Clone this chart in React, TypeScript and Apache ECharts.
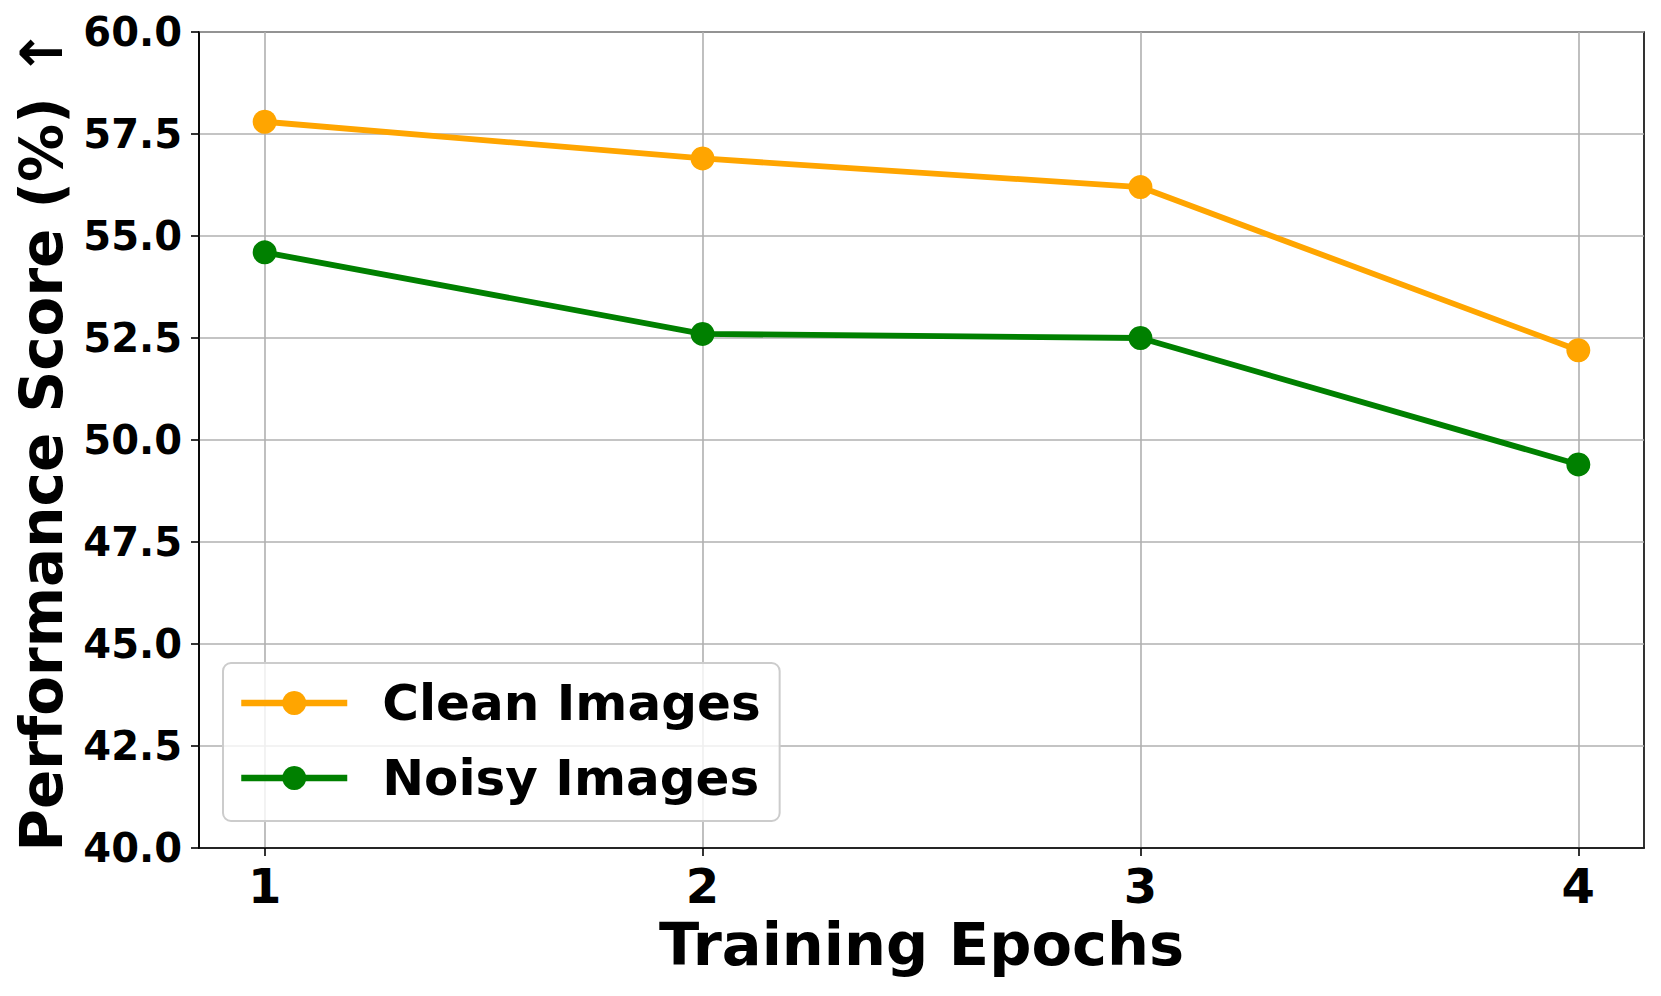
import React, { useEffect, useRef } from "react";
import * as echarts from "echarts";

const epochs = [1, 2, 3, 4];
const cleanScores = [57.8, 56.9, 56.2, 52.2];
const noisyScores = [54.6, 52.6, 52.5, 49.4];
const seriesNames = ["Clean Images", "Noisy Images"];
const seriesColors = ["#FFA500", "#008000"];
const xTitle = "Training Epochs";
const yTitle = "Performance Score (%) \u2191";

const FONT = "DejaVu Sans";

export default function App() {
  const ref = useRef<HTMLDivElement>(null);
  useEffect(() => {
    if (!ref.current) return;
    const chart = echarts.init(ref.current, null, { renderer: "svg" });
    const mk = (name: string, vals: number[], color: string) => ({
      name,
      type: "line",
      data: epochs.map((e, i) => [e, vals[i]]),
      symbol: "circle",
      symbolSize: 24,
      lineStyle: { color, width: 5.8 },
      itemStyle: { color },
      emphasis: { disabled: true },
    });
    chart.setOption({
      animation: false,
      backgroundColor: "#ffffff",
      textStyle: { fontFamily: FONT },
      grid: {
        left: 199,
        top: 32,
        right: 17,
        bottom: 148,
        show: true,
        borderColor: "#000000",
        borderWidth: 1.6,
        backgroundColor: "transparent",
      },
      xAxis: {
        type: "value",
        min: 0.85,
        max: 4.15,
        name: xTitle,
        nameLocation: "middle",
        nameGap: 64,
        nameTextStyle: { fontFamily: FONT, fontWeight: "bold", fontSize: 59, color: "#000" },
        axisLine: { show: true, lineStyle: { color: "#000", width: 1.6 } },
        axisTick: { show: true, customValues: epochs, length: 8, lineStyle: { color: "#000", width: 1.6 } },
        axisLabel: {
          customValues: epochs,
          fontFamily: FONT,
          fontWeight: "bold",
          fontSize: 48,
          color: "#000",
          margin: 14,
          formatter: (v: number) => String(v),
        },
        splitLine: { show: true, lineStyle: { color: "#b0b0b0", width: 1.6 } },
      },
      yAxis: {
        type: "value",
        min: 40,
        max: 60,
        interval: 2.5,
        name: yTitle,
        nameLocation: "middle",
        nameGap: 128,
        nameRotate: 90,
        nameTextStyle: { fontFamily: FONT, fontWeight: "bold", fontSize: 58, color: "#000" },
        axisLine: { show: true, lineStyle: { color: "#000", width: 1.6 } },
        axisTick: { show: true, length: 8, lineStyle: { color: "#000", width: 1.6 } },
        axisLabel: {
          fontFamily: FONT,
          fontWeight: "bold",
          fontSize: 40,
          color: "#000",
          margin: 17,
          formatter: (v: number) => v.toFixed(1),
        },
        splitLine: { show: true, lineStyle: { color: "#b0b0b0", width: 1.6 } },
      },
      legend: {
        data: seriesNames,
        orient: "vertical",
        left: 223,
        top: 663,
        padding: [15, 19, 18, 15],
        itemGap: 25,
        itemWidth: 106,
        itemHeight: 30,
        backgroundColor: "rgba(255,255,255,0.8)",
        borderColor: "#cccccc",
        borderWidth: 2,
        borderRadius: 8,
        lineStyle: { width: 6.5 },
        textStyle: {
          fontFamily: FONT,
          fontWeight: "bold",
          fontSize: 50,
          color: "#000",
          padding: [0, 0, 0, 30],
        },
      },
      series: [
        mk(seriesNames[0], cleanScores, seriesColors[0]),
        mk(seriesNames[1], noisyScores, seriesColors[1]),
      ],
    });
    return () => chart.dispose();
  }, []);
  return (
    <div
      ref={ref}
      style={{ position: "fixed", left: 0, top: 0, width: 1661, height: 996 }}
    />
  );
}
